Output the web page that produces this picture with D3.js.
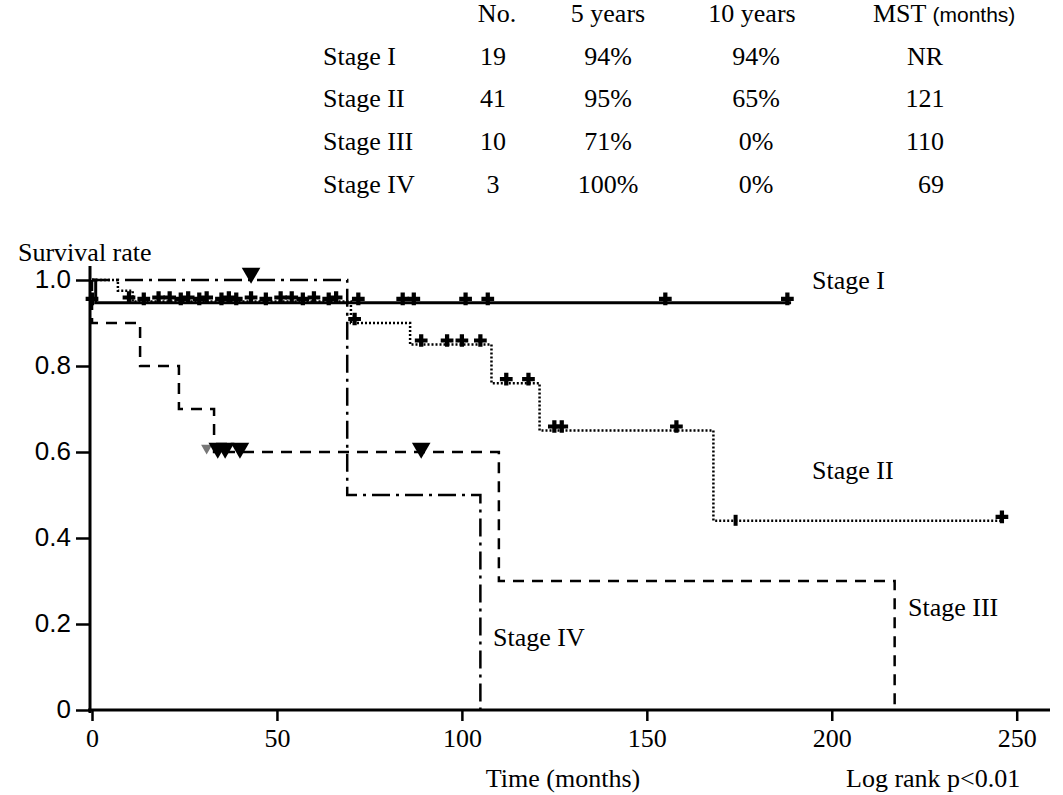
<!DOCTYPE html>
<html>
<head>
<meta charset="utf-8">
<script src="https://cdn.jsdelivr.net/npm/d3@7"></script>
<style>
  body { margin: 0; background: #fff; }
  svg text { fill: #000; }
  .serif { font-family: "Liberation Serif", "Times New Roman", serif; }
  .sans { font-family: "Liberation Sans", Arial, sans-serif; }
</style>
</head>
<body>
<div id="chart"></div>
<script>
// ---- data ----
var stages = ['Stage I', 'Stage II', 'Stage III', 'Stage IV'];
var tableNo = ['19', '41', '10', '3'];
var table5y = ['94%', '95%', '71%', '100%'];
var table10y = ['94%', '65%', '0%', '0%'];
var tableMST = ['NR', '121', '110', '69'];

// step curves: time (months) and survival
var s1Time = [0, 1, 189];
var s1Surv = [1.0, 0.947, 0.947];
var s2Time = [0, 7, 11, 70, 86, 108, 121, 168, 246];
var s2Surv = [1.0, 0.975, 0.95, 0.90, 0.85, 0.76, 0.65, 0.44, 0.44];
var s3Time = [0, 0.01, 13, 23.5, 33, 110, 217, 217];
var s3Surv = [1.0, 0.9, 0.8, 0.7, 0.6, 0.3, 0.3, 0];
var s4Time = [0, 69, 105, 105];
var s4Surv = [1.0, 0.5, 0.5, 0];

// censored observations
var s1Cens = [0, 14, 24, 29, 35, 39, 47, 57, 64, 72, 84, 87, 101, 107, 155, 188];
var s2CensTime = [10, 18, 21, 26, 31, 37, 43, 51, 54, 60, 66, 71, 89, 96, 100, 105, 112, 118, 125, 127, 158, 246];
var s2CensSurv = [0.95, 0.95, 0.95, 0.95, 0.95, 0.95, 0.95, 0.95, 0.95, 0.95, 0.95, 0.90, 0.85, 0.85, 0.85, 0.85, 0.76, 0.76, 0.65, 0.65, 0.65, 0.44];
var s2TickTime = [174];
var s2TickSurv = [0.44];
var s3Cens = [31, 34, 36, 40, 89];
var s3CensSurv = [0.6, 0.6, 0.6, 0.6, 0.6];
var s4Cens = [43];
var s4CensSurv = [1.0];

var xMajor = [0, 50, 100, 150, 200, 250];
var yMajor = [0, 0.2, 0.4, 0.6, 0.8, 1.0];

// ---- drawing ----
var w = 1063, h = 795;
var svg = d3.select('#chart').append('svg')
    .attr('width', w)
    .attr('height', h);

var x = d3.scaleLinear().domain([0, 259]).range([92, 1050]);
var y = d3.scaleLinear().domain([0, 1]).range([710, 280]);

function zip(a, b) { return a.map(function (d, i) { return [d, b[i]]; }); }

// table
var fs = 26;
var colX = [497, 608, 756, 925];
var rowY = [56, 98, 141, 184];
svg.append('text').attr('class', 'serif').attr('x', colX[0]).attr('y', 22)
    .attr('text-anchor', 'middle').attr('font-size', fs).text('No.');
svg.append('text').attr('class', 'serif').attr('x', colX[1]).attr('y', 22)
    .attr('text-anchor', 'middle').attr('font-size', fs).text('5  years');
svg.append('text').attr('class', 'serif').attr('x', colX[2] - 4).attr('y', 22)
    .attr('text-anchor', 'middle').attr('font-size', fs).text('10 years');
var mst = svg.append('text').attr('x', 873).attr('y', 22).attr('font-size', fs);
mst.append('tspan').attr('class', 'serif').text('MST ');
mst.append('tspan').attr('class', 'sans').attr('font-size', 21).text('(months)');

stages.forEach(function (s, i) {
    var yy = rowY[i] + 9;
    svg.append('text').attr('class', 'serif').attr('x', 323).attr('y', yy).attr('font-size', fs).text(s);
    svg.append('text').attr('class', 'serif').attr('x', colX[0] - 4).attr('y', yy)
        .attr('text-anchor', 'middle').attr('font-size', fs).text(tableNo[i]);
    svg.append('text').attr('class', 'serif').attr('x', colX[1]).attr('y', yy)
        .attr('text-anchor', 'middle').attr('font-size', fs).text(table5y[i]);
    svg.append('text').attr('class', 'serif').attr('x', colX[2]).attr('y', yy)
        .attr('text-anchor', 'middle').attr('font-size', fs).text(table10y[i]);
    svg.append('text').attr('class', 'serif').attr('x', colX[3] + (i === 3 ? 6 : 0)).attr('y', yy)
        .attr('text-anchor', 'middle').attr('font-size', fs).text(tableMST[i]);
});

// axes
var xAxisMinor = d3.axisBottom(x).tickValues(d3.range(0, 251, 10)).tickSize(6).tickFormat('');
var xAxis = d3.axisBottom(x).tickValues(xMajor).tickSize(11).tickPadding(8);
var yAxisMinor = d3.axisLeft(y).tickValues([0.1, 0.3, 0.5, 0.7, 0.9]).tickSize(8).tickFormat('');
var yAxis = d3.axisLeft(y).tickValues(yMajor).tickSize(14).tickPadding(5)
    .tickFormat(function (d) { return d === 0 ? '0' : d3.format('.1f')(d); });

var gx = svg.append('g').attr('transform', 'translate(0,710)');
gx.call(xAxisMinor);
gx.call(xAxis);
gx.selectAll('.domain').attr('d', 'M88,0H1050').attr('stroke-width', 3);
gx.selectAll('line').attr('stroke-width', 2.5);
gx.selectAll('text').attr('class', 'serif').attr('font-size', fs).attr('font-family', null);

var gy = svg.append('g').attr('transform', 'translate(90,0)');
gy.call(yAxisMinor);
gy.call(yAxis);
gy.selectAll('.domain').attr('d', 'M0,713V266').attr('stroke-width', 3);
gy.selectAll('line').attr('stroke-width', 2.5);
gy.selectAll('text').attr('class', 'sans').attr('font-size', 26).attr('font-family', null).attr('dy', '0.3em');

// curves
var line = d3.line()
    .x(function (d) { return x(d[0]); })
    .y(function (d) { return y(d[1]); })
    .curve(d3.curveStepAfter);

svg.append('path').datum(zip(s4Time, s4Surv)).attr('d', line)
    .attr('fill', 'none').attr('stroke', '#000').attr('stroke-width', 2.5)
    .attr('stroke-dasharray', '18,6,3,6');
svg.append('path').datum(zip(s3Time, s3Surv)).attr('d', line)
    .attr('fill', 'none').attr('stroke', '#000').attr('stroke-width', 2.5)
    .attr('stroke-dasharray', '11,8');
svg.append('path').datum(zip(s2Time, s2Surv)).attr('d', line)
    .attr('fill', 'none').attr('stroke', '#000').attr('stroke-width', 2.5)
    .attr('stroke-dasharray', '2,2');
svg.append('path').datum(zip(s1Time, s1Surv)).attr('d', line)
    .attr('fill', 'none').attr('stroke', '#000').attr('stroke-width', 3);

// censor marks
var cross = d3.symbol().type(d3.symbolCross).size(90);
svg.selectAll('.c1').data(s1Cens).enter().append('path')
    .attr('class', 'c1')
    .attr('d', cross)
    .attr('transform', function (d) { return 'translate(' + x(d) + ',' + (y(0.947) - 4) + ')'; });
svg.selectAll('.c2').data(zip(s2CensTime, s2CensSurv)).enter().append('path')
    .attr('class', 'c2')
    .attr('d', cross)
    .attr('transform', function (d) { return 'translate(' + x(d[0]) + ',' + (y(d[1]) - 4) + ')'; });
svg.selectAll('.t2').data(zip(s2TickTime, s2TickSurv)).enter().append('rect')
    .attr('x', function (d) { return x(d[0]) - 2; })
    .attr('y', function (d) { return y(d[1]) - 6; })
    .attr('width', 4).attr('height', 11);

var tri = d3.symbol().type(d3.symbolTriangle).size(150);
svg.selectAll('.c3').data(zip(s3Cens, s3CensSurv)).enter().append('path')
    .attr('d', tri)
    .attr('fill', function (d, i) { return i === 0 ? '#777' : '#000'; })
    .attr('transform', function (d, i) {
        return 'translate(' + x(d[0]) + ',' + (y(d[1]) - 4) + ') rotate(180)' + (i === 0 ? ' scale(0.6)' : '');
    });
svg.selectAll('.c4').data(zip(s4Cens, s4CensSurv)).enter().append('path')
    .attr('d', tri)
    .attr('transform', function (d) { return 'translate(' + x(d[0]) + ',' + (y(d[1]) - 7) + ') rotate(180)'; });

// labels
function label(txt, lx, ly) {
    svg.append('text').attr('class', 'serif').attr('x', lx).attr('y', ly).attr('font-size', fs).text(txt);
}
label('Stage I', 812, 289);
label('Stage II', 812, 479);
label('Stage III', 908, 616);
label('Stage IV', 493, 646);
label('Survival rate', 18, 261);
svg.append('text').attr('class', 'serif').attr('x', 563).attr('y', 787)
    .attr('text-anchor', 'middle').attr('font-size', fs).text('Time (months)');
svg.append('text').attr('class', 'serif').attr('x', 846).attr('y', 787)
    .attr('font-size', fs).text('Log rank p<0.01');
</script>
</body>
</html>
